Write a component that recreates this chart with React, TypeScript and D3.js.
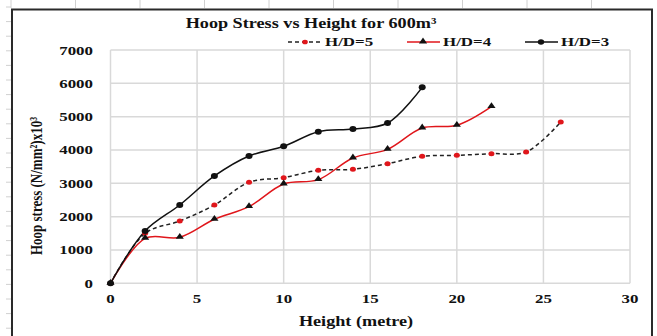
import * as d3 from "d3";

// heights (m) and hoop stress (N/mm²)x10³
const heights5 = [0, 2, 4, 6, 8, 10, 12, 14, 16, 18, 20, 22, 24, 26];
const stress5 = [0, 1500, 1870, 2350, 3030, 3170, 3390, 3420, 3590, 3810, 3840, 3890, 3940, 4840];
const heights4 = [0, 2, 4, 6, 8, 10, 12, 14, 16, 18, 20, 22];
const stress4 = [0, 1350, 1380, 1920, 2300, 2980, 3110, 3760, 4020, 4660, 4740, 5300];
const heights3 = [0, 2, 4, 6, 8, 10, 12, 14, 16, 18];
const stress3 = [0, 1570, 2350, 3220, 3820, 4110, 4550, 4630, 4810, 5880];

const xTicks = [0, 5, 10, 15, 20, 25, 30];
const yTicks = [0, 1000, 2000, 3000, 4000, 5000, 6000, 7000];

const W = 657;
const H = 336;
const SX = 1.3; // the picture is stretched sideways
const font = "'Liberation Serif', 'Times New Roman', serif";

const x = d3.scaleLinear().domain([0, 30]).range([110.5, 630]);
const y = d3.scaleLinear().domain([0, 7000]).range([283.3, 50]);

type Pt = [number, number];
const zip = (a: number[], b: number[]): Pt[] => a.map((v, i) => [v, b[i]]);

const line = d3
  .line<Pt>()
  .x((d) => x(d[0]))
  .y((d) => y(d[1]))
  .curve(d3.curveCatmullRom.alpha(0.5));

const tri = d3.symbol(d3.symbolTriangle, 20);

function T({
  x: tx,
  y: ty,
  size,
  anchor = "middle",
  children,
}: {
  x: number;
  y: number;
  size: number;
  anchor?: string;
  children: React.ReactNode;
}) {
  return (
    <text
      transform={`translate(${tx},${ty}) scale(${SX},1)`}
      fontFamily={font}
      fontWeight="bold"
      fontSize={size}
      textAnchor={anchor}
      fill="#111"
    >
      {children}
    </text>
  );
}

export default function App() {
  const s5 = zip(heights5, stress5);
  const s4 = zip(heights4, stress4);
  const s3 = zip(heights3, stress3);

  return (
    <svg
      width={W}
      height={H}
      style={{ position: "absolute", left: 0, top: 0, background: "#fff" }}
    >
      {/* spreadsheet cell lines behind the chart */}
      <g stroke="#d0d0d0" strokeWidth={1}>
        {d3.range(10).map((i) => (
          <line key={"c" + i} x1={11 + i * 64.5} x2={11 + i * 64.5} y1={0} y2={8} />
        ))}
        {d3.range(23).map((i) => (
          <line key={"r" + i} x1={6} x2={11} y1={7 + i * 14.6} y2={7 + i * 14.6} />
        ))}
      </g>
      <rect x={12} y={9.5} width={640} height={340} fill="#fff" stroke="#2a2a2a" strokeWidth={2} />

      {/* grid */}
      <g stroke="#d9d9d9" strokeWidth={1.5}>
        {yTicks.map((t) => (
          <line key={"y" + t} x1={x(0)} x2={x(30)} y1={y(t)} y2={y(t)} />
        ))}
        {xTicks.map((t) => (
          <line key={"x" + t} x1={x(t)} x2={x(t)} y1={y(0)} y2={y(7000)} />
        ))}
      </g>

      {/* tick labels */}
      {yTicks.map((t) => (
        <T key={"yl" + t} x={93} y={y(t) + 4.5} size={13} anchor="end">
          {t}
        </T>
      ))}
      {xTicks.map((t) => (
        <T key={"xl" + t} x={x(t)} y={303} size={13}>
          {t}
        </T>
      ))}

      {/* series */}
      <path d={line(s5) ?? ""} fill="none" stroke="#222" strokeWidth={1.5} strokeDasharray="4,3" />
      <path d={line(s4) ?? ""} fill="none" stroke="#e0161b" strokeWidth={1.5} />
      <path d={line(s3) ?? ""} fill="none" stroke="#111" strokeWidth={1.5} />

      {s5.map((d, i) => (
        <ellipse key={"m5" + i} cx={x(d[0])} cy={y(d[1])} rx={3} ry={2.5} fill="#e0161b" />
      ))}
      {s4.map((d, i) => (
        <path
          key={"m4" + i}
          d={tri() ?? ""}
          transform={`translate(${x(d[0])},${y(d[1]) - 0.5}) scale(1.2,1)`}
          fill="#111"
        />
      ))}
      {s3.map((d, i) => (
        <ellipse key={"m3" + i} cx={x(d[0])} cy={y(d[1])} rx={3.5} ry={3} fill="#111" />
      ))}

      {/* title and axis titles */}
      <T x={311} y={28} size={14}>
        Hoop Stress vs Height for 600m³
      </T>
      <T x={356} y={326} size={14}>
        Height (metre)
      </T>
      <text
        transform={`translate(42,186) rotate(-90) scale(1,${SX})`}
        fontFamily={font}
        fontWeight="bold"
        fontSize={13}
        textAnchor="middle"
        fill="#111"
      >
        Hoop stress (N/mm²)x10³
      </text>

      {/* legend */}
      <line x1={288} x2={322} y1={42} y2={42} stroke="#222" strokeWidth={1.5} strokeDasharray="4,3" />
      <ellipse cx={305} cy={42} rx={2.8} ry={2.3} fill="#e0161b" />
      <T x={325} y={46} size={13} anchor="start">
        H/D=5
      </T>
      <line x1={407} x2={440} y1={42} y2={42} stroke="#e0161b" strokeWidth={1.5} />
      <path d={tri() ?? ""} transform="translate(423,41.5) scale(1.2,1)" fill="#111" />
      <T x={443} y={46} size={13} anchor="start">
        H/D=4
      </T>
      <line x1={525} x2={558} y1={42} y2={42} stroke="#111" strokeWidth={1.5} />
      <ellipse cx={541} cy={42} rx={3.2} ry={2.7} fill="#111" />
      <T x={561} y={46} size={13} anchor="start">
        H/D=3
      </T>
    </svg>
  );
}
